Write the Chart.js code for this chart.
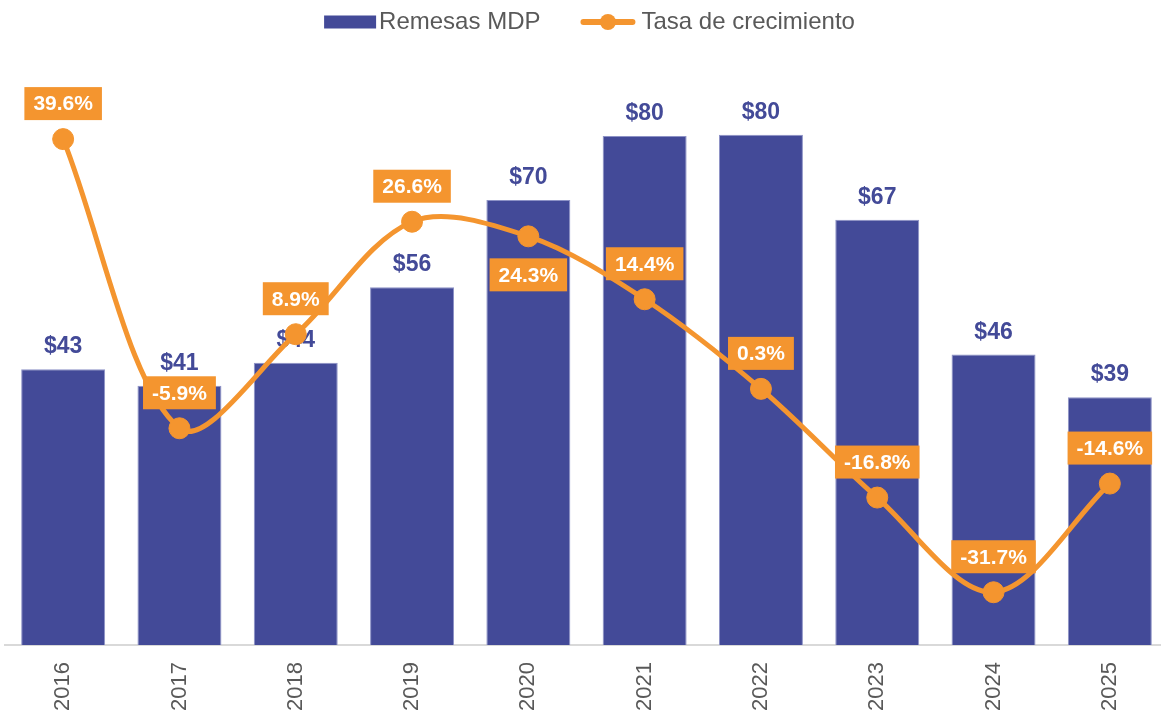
<!DOCTYPE html>
<html lang="es">
<head>
    <meta charset="UTF-8">
    <title>Remesas MDP</title>
    <script src="https://cdn.jsdelivr.net/npm/chart.js@4.4.0/dist/chart.umd.min.js"></script>
    <style>
        html, body {
            margin: 0;
            padding: 0;
            background-color: #ffffff;
            overflow: hidden;
        }
        /* el area de la grafica sigue unos pixeles mas alla del borde derecho */
        .chart-container {
            position: relative;
            width: 1168px;
            height: 714px;
        }
    </style>
</head>
<body>
    <div class="chart-container">
        <canvas id="remesasChart"></canvas>
    </div>

    <script>
        // Datos
        const years = ['2016', '2017', '2018', '2019', '2020', '2021', '2022', '2023', '2024', '2025'];
        const remesas = [43.4, 40.8, 44.4, 56.3, 70.0, 80.1, 80.3, 66.9, 45.7, 39.0];
        const crecimiento = [39.6, -5.9, 8.9, 26.6, 24.3, 14.4, 0.3, -16.8, -31.7, -14.6];
        // años cuya etiqueta de tasa va debajo del punto
        const labelsBelow = ['2020'];

        const blue = '#434A98';
        const orange = '#F4952F';
        const gray = '#595959';
        const fontFamily = 'Arial, "Liberation Sans", sans-serif';

        // Etiquetas de barras ($) y de la tasa (%)
        const valueLabels = {
            id: 'valueLabels',
            afterDatasetDraw(chart, args) {
                if (args.index !== 0) return;
                const ctx = chart.ctx;
                ctx.save();
                ctx.font = 'bold 23px ' + fontFamily;
                ctx.fillStyle = blue;
                ctx.textAlign = 'center';
                ctx.textBaseline = 'alphabetic';
                args.meta.data.forEach((bar, i) => {
                    ctx.fillText('$' + Math.round(remesas[i]), bar.x, bar.y - 16);
                });
                ctx.restore();
            },
            afterDatasetsDraw(chart) {
                const ctx = chart.ctx;
                const meta = chart.getDatasetMeta(1);
                ctx.save();
                ctx.font = 'bold 21px ' + fontFamily;
                ctx.textAlign = 'center';
                ctx.textBaseline = 'middle';
                meta.data.forEach((pt, i) => {
                    const text = crecimiento[i].toFixed(1) + '%';
                    const w = ctx.measureText(text).width + 18;
                    const h = 33;
                    const below = labelsBelow.includes(years[i]);
                    const top = below ? pt.y + 22 : pt.y - 19 - h;
                    ctx.fillStyle = orange;
                    ctx.fillRect(pt.x - w / 2, top, w, h);
                    ctx.fillStyle = '#ffffff';
                    ctx.fillText(text, pt.x, top + h / 2 + 1);
                });
                ctx.restore();
            }
        };

        // Leyenda superior
        const topLegend = {
            id: 'topLegend',
            afterDraw(chart) {
                const ctx = chart.ctx;
                const sets = chart.data.datasets;
                const area = chart.chartArea;
                ctx.save();
                ctx.font = '24px ' + fontFamily;
                ctx.textBaseline = 'middle';
                const symW = [52, 55];
                const symGap = [3, 6];
                const itemGap = 40;
                const textW = sets.map(d => ctx.measureText(d.label).width);
                const total = symW[0] + symGap[0] + textW[0] + itemGap + symW[1] + symGap[1] + textW[1];
                let x = (area.left + area.right) / 2 - total / 2 + 3;
                const cy = 22;

                // barra
                ctx.fillStyle = blue;
                ctx.fillRect(x, cy - 6.5, symW[0], 13);
                x += symW[0] + symGap[0];
                ctx.fillStyle = gray;
                ctx.fillText(sets[0].label, x, cy);
                x += textW[0] + itemGap;

                // linea con punto
                ctx.strokeStyle = orange;
                ctx.lineWidth = 6;
                ctx.lineCap = 'round';
                ctx.beginPath();
                ctx.moveTo(x + 3, cy);
                ctx.lineTo(x + symW[1] - 3, cy);
                ctx.stroke();
                ctx.fillStyle = orange;
                ctx.beginPath();
                ctx.arc(x + symW[1] / 2, cy, 8, 0, Math.PI * 2);
                ctx.fill();
                x += symW[1] + symGap[1];
                ctx.fillStyle = gray;
                ctx.fillText(sets[1].label, x, cy);
                ctx.restore();
            }
        };

        const ctx = document.getElementById('remesasChart').getContext('2d');
        new Chart(ctx, {
            type: 'bar',
            data: {
                labels: years,
                datasets: [
                    {
                        label: 'Remesas MDP',
                        data: remesas,
                        backgroundColor: blue,
                        borderColor: '#8d92c6',
                        borderWidth: 1,
                        categoryPercentage: 1,
                        barPercentage: 0.722,
                        yAxisID: 'y',
                        order: 2
                    },
                    {
                        type: 'line',
                        label: 'Tasa de crecimiento',
                        data: crecimiento,
                        borderColor: orange,
                        backgroundColor: orange,
                        borderWidth: 5,
                        pointRadius: 10.5,
                        pointBorderWidth: 1,
                        pointBackgroundColor: orange,
                        tension: 0.33,
                        fill: false,
                        yAxisID: 'y1',
                        order: 1
                    }
                ]
            },
            options: {
                responsive: true,
                maintainAspectRatio: false,
                animation: false,
                layout: {
                    autoPadding: false,
                    padding: { left: 5, right: 0, top: 73, bottom: 0 }
                },
                plugins: {
                    legend: { display: false },
                    tooltip: { enabled: false }
                },
                scales: {
                    x: {
                        offset: true,
                        grid: { display: false, drawTicks: false },
                        border: { color: '#d9d9d9', width: 2 },
                        ticks: {
                            color: gray,
                            font: { size: 22, family: fontFamily },
                            minRotation: 90,
                            maxRotation: 90,
                            padding: 17
                        },
                        afterFit(scale) {
                            // alto fijo del eje y sin relleno lateral extra
                            scale.height = 69;
                            scale.paddingLeft = 0;
                            scale.paddingRight = 0;
                        }
                    },
                    y: { display: false, min: 0, max: 90 },
                    y1: { display: false, position: 'right', min: -40, max: 50 }
                }
            },
            plugins: [valueLabels, topLegend]
        });
    </script>
</body>
</html>
